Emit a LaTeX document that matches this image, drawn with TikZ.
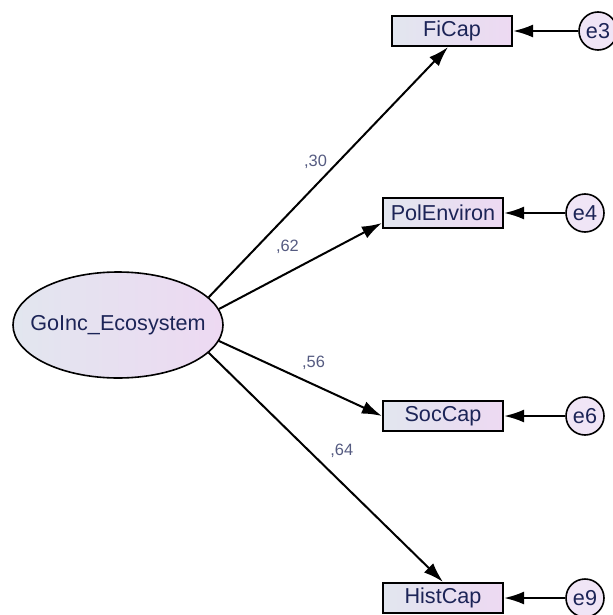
\documentclass[tikz,border=0pt]{standalone}
\usepackage{fontspec}
\setmainfont{Liberation Sans}
\usetikzlibrary{arrows.meta,positioning,shapes.geometric}

\definecolor{shadeL}{HTML}{E2E6EF}
\definecolor{shadeR}{HTML}{EDD9F2}
\definecolor{errfill}{HTML}{F0E5F6}
\definecolor{txtblue}{HTML}{1C2457}

\begin{document}
\begin{tikzpicture}[
x=0.5pt, y=-0.5pt,
obs/.style={
  draw,
  rectangle,
  line width=1.1pt,
  minimum width=60pt,
  minimum height=15pt,
  inner sep=2pt,
  left color=shadeL,
  right color=shadeR,
  text=txtblue,
  font=\fontsize{10.8}{12}\selectfont
  },
lat/.style={
  draw,
  ellipse,
  line width=0.8pt,
  minimum width=105pt,
  minimum height=53pt,
  inner xsep=-7pt,
  inner ysep=0pt,
  left color=shadeL,
  right color=shadeR,
  text=txtblue,
  font=\fontsize{10.8}{12}\selectfont
  },
err/.style={
  draw,
  circle,
  line width=0.8pt,
  fill=errfill,
  minimum size=19pt,
  inner sep=0pt,
  text=txtblue,
  font=\fontsize{10.8}{12}\selectfont
  },
wgt/.style={
  inner sep=1pt,
  text=txtblue!75,
  font=\fontsize{8.2}{9}\selectfont
  },
conn/.style={
  ->,
  line width=1pt
  },
>={Latex[length=10pt,width=6.5pt]}
]
\useasboundingbox (0,0) rectangle (613,615);

\node[lat] (eco) at (118,325) {GoInc\_Ecosystem};

% indicators and their errors
\foreach \nm/\txt/\xx/\yy/\ee/\ex in {fic/FiCap/452/31/e3/598,
                                      pol/PolEnviron/443/213/e4/585,
                                      soc/SocCap/443/416/e6/585,
                                      hist/HistCap/443/598/e9/585}
{
  \node[obs] (\nm) at (\xx,\yy) {\txt};
  \node[err] (\ee) at (\ex,\yy) {\ee};
  \draw[conn] (\ee) -- (\nm);
}

% loadings
\draw[conn] (eco.17) -- node[wgt, pos=0.54, left=4pt] {,30} ([xshift=-2pt]fic.south);
\draw[conn] (eco.9) -- node[wgt, pos=0.42, above=8pt] {,62} ([yshift=-5pt]pol.west);
\draw[conn] (eco.-9) -- node[wgt, pos=0.58, above=6pt] {,56} (soc.west);
\draw[conn] (eco.-17) -- node[wgt, pos=0.43, right=9pt] {,64} (hist.north);
\end{tikzpicture}
\end{document}
